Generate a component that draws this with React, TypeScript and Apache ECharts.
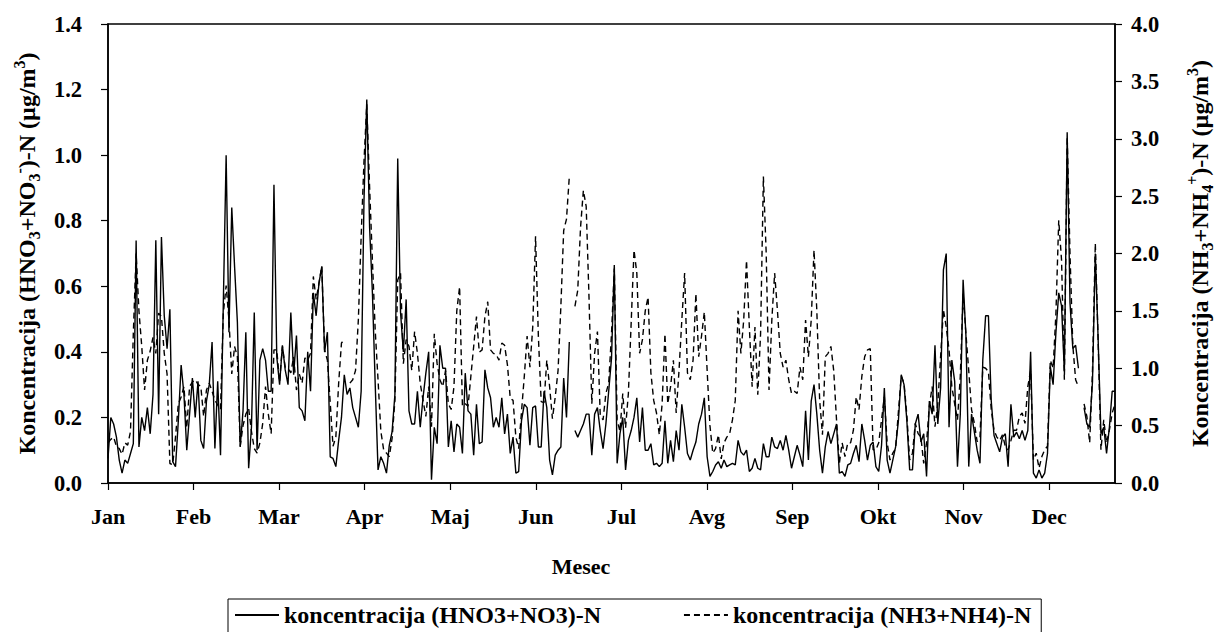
import React, { useEffect, useRef } from "react";
import * as echarts from "echarts";

const months = ["Jan", "Feb", "Mar", "Apr", "Maj", "Jun", "Jul", "Avg", "Sep", "Okt", "Nov", "Dec"];
const leftTicks = [0, 1.4, 0.2];
const rightTicks = [0, 4, 0.5];

// (HNO3+NO3)-N, daily values, left axis
const hno3: (number | null)[] = [
  0.075, 0.2, 0.18, 0.14, 0.07, 0.03, 0.07, 0.06, 0.09, 0.12,
  0.74, 0.11, 0.2, 0.16, 0.23, 0.15, 0.27, 0.74, 0.21, 0.75,
  0.51, 0.41, 0.53, 0.065, 0.05, 0.19, 0.36, 0.27, 0.1, 0.21,
  0.32, 0.2, 0.31, 0.13, 0.105, 0.25, 0.3, 0.43, 0.105, 0.31,
  0.085, 0.55, 1.0, 0.46, 0.84, 0.66, 0.49, 0.11, 0.22, 0.46,
  0.045, 0.17, 0.52, 0.1, 0.375, 0.41, 0.375, 0.28, 0.28, 0.91,
  0.385, 0.3, 0.42, 0.345, 0.3, 0.52, 0.33, 0.45, 0.23, 0.22,
  0.19, 0.4, 0.28, 0.58, 0.51, 0.61, 0.66, 0.4, 0.46, 0.08,
  0.075, 0.05, 0.13, 0.2, 0.33, 0.27, 0.29, 0.23, 0.2, 0.17,
  0.28, 0.86, 1.17, 0.78, 0.58, 0.3, 0.04, 0.08, 0.06, 0.03,
  0.115, 0.157, 0.27, 0.99, 0.52, 0.4, 0.56, 0.22, 0.18, 0.18,
  0.28, 0.17, 0.26, 0.335, 0.4, 0.01, 0.17, 0.12, 0.42, 0.35,
  0.35, 0.11, 0.19, 0.095, 0.18, 0.17, 0.09, 0.335, 0.22, 0.21,
  0.085, 0.24, 0.12, 0.125, 0.345, 0.29, 0.26, 0.17, 0.2, 0.17,
  0.26, 0.15, 0.21, 0.09, 0.14, 0.03, 0.035, 0.19, 0.24, 0.23,
  0.115, 0.23, 0.235, 0.11, 0.11, 0.28, 0.23, 0.07, 0.025, 0.085,
  0.1, 0.11, 0.32, 0.2, 0.43, null, 0.16, 0.14, 0.16, 0.18,
  0.21, 0.21, 0.085, 0.21, 0.23, 0.16, 0.105, 0.18, 0.28, 0.38,
  0.665, 0.06, 0.15, 0.2, 0.04, 0.13, 0.16, 0.2, 0.26, 0.125,
  0.23, 0.1, 0.1, 0.12, 0.055, 0.06, 0.05, 0.06, 0.19, 0.06,
  0.13, 0.065, 0.16, 0.1, 0.24, 0.17, 0.09, 0.07, 0.1, 0.125,
  0.18, 0.21, 0.26, 0.08, 0.02, 0.035, 0.055, 0.065, 0.045, 0.07,
  0.05, 0.055, 0.06, 0.055, 0.13, 0.095, 0.085, 0.1, 0.035, 0.045,
  0.075, 0.045, 0.04, 0.12, 0.08, 0.08, 0.14, 0.11, 0.105, 0.13,
  0.1, 0.145, 0.1, 0.045, 0.08, 0.115, 0.085, 0.05, 0.22, 0.07,
  0.25, 0.3, 0.21, 0.1, 0.03, 0.11, 0.157, 0.12, 0.15, 0.18,
  0.03, 0.035, 0.02, 0.055, 0.06, 0.09, 0.115, 0.065, 0.18, 0.13,
  0.07, 0.115, 0.125, 0.05, 0.035, 0.115, 0.29, 0.07, 0.03, 0.07,
  0.11, 0.19, 0.33, 0.3, 0.19, 0.04, 0.04, 0.18, 0.21, 0.125,
  0.15, 0.02, 0.25, 0.21, 0.42, 0.18, 0.29, 0.65, 0.7, 0.17,
  0.375, 0.31, 0.05, 0.21, 0.62, 0.45, 0.05, 0.21, 0.155, 0.1,
  0.06, 0.375, 0.51, 0.51, 0.25, 0.145, 0.12, 0.095, 0.14, 0.15,
  0.05, 0.24, 0.14, 0.155, 0.135, 0.16, 0.13, 0.16, 0.4, 0.03,
  0.015, 0.04, 0.015, 0.03, 0.09, 0.355, 0.3, 0.46, 0.58, 0.54,
  0.34, 1.07, 0.55, 0.41, 0.42, 0.35, null, 0.23, 0.18, 0.17,
  0.31, 0.7, 0.44, 0.15, 0.17, 0.09, 0.17, 0.28, 0.28,
];

// (NH3+NH4)-N, daily values, right axis
const nh3: (number | null)[] = [
  0.35, 0.38, 0.4, 0.32, 0.3, 0.25, 0.35, 0.33, 0.45, 1.3,
  2.0, 1.5, 1.19, 0.81, 1.07, 1.15, 1.27, 1.13, 1.48, 1.45,
  1.13, 0.95, 0.17, 0.16, 0.4, 0.69, 0.75, 0.84, 0.48, 0.84,
  0.88, 0.9, 0.86, 0.84, 0.58, 0.81, 0.87, 0.8, 0.72, 0.68,
  0.64, 1.48, 1.72, 1.42, 0.95, 1.19, 1.1, 0.32, 0.5, 0.6,
  0.65, 0.45, 0.3, 0.26, 0.35, 0.52, 0.84, 0.6, 0.43, 1.16,
  1.16, 0.88, 1.19, 1.01, 1.0, 0.96, 1.1, 0.81, 0.95, 0.87,
  1.09, 1.07, 1.13, 1.8, 1.6, 1.74, 1.89, 1.16, 1.07, 0.7,
  0.32, 0.4, 0.87, 1.22, 1.25, null, 0.87, 0.9, 0.98, 1.42,
  2.15, 2.8, 3.3, 2.58, 1.94, 1.33, 0.9, 0.45, 0.29, 0.26,
  0.23, 0.39, 0.72, 1.77, 1.83, 1.04, 1.25, 1.19, 0.98, 1.32,
  1.13, 0.87, 0.72, 0.58, 0.84, 0.49, 1.3, 1.04, 0.9, 0.84,
  0.98, 0.69, 0.64, 0.84, 1.5, 1.71, 0.67, 0.69, 0.67, 0.93,
  1.19, 1.45, 1.14, 1.16, 1.45, 1.58, 1.16, 1.13, 1.12, 1.07,
  1.22, 1.2, 1.03, 0.74, 0.72, 0.4, 0.3, 0.62, 0.93, 1.28,
  1.01, 1.36, 2.15, 1.28, 0.71, 0.7, 1.07, 0.84, 0.56, 0.75,
  0.98, 1.54, 2.2, 2.3, 2.67, null, 1.54, 1.68, 2.23, 2.55,
  2.41, 1.62, 0.69, 1.13, 1.32, 0.59, 0.55, 0.78, 0.87, 1.3,
  1.87, 0.55, 0.45, 0.78, 0.48, 0.78, 1.4, 2.03, 1.83, 1.13,
  1.25, 1.5, 1.62, 0.96, 0.72, 0.61, 0.42, 0.69, 1.3, 0.69,
  0.84, 1.07, 0.61, 0.98, 1.42, 1.83, 0.96, 0.9, 1.07, 1.65,
  1.1, 1.28, 1.49, 0.98, 0.5, 0.26, 0.3, 0.42, 0.21, 0.35,
  0.4, 0.43, 0.55, 0.72, 1.5, 1.13, 1.42, 1.94, 1.36, 0.84,
  1.36, 0.77, 1.3, 2.67, 2.0, 0.81, 1.42, 1.83, 1.5, 1.13,
  1.01, 1.07, 0.9, 0.78, 0.8, 0.78, 1.01, 0.9, 1.42, 1.1,
  1.42, 2.03, 1.5, 0.72, 0.42, 1.1, 1.13, 1.19, 0.98, 0.55,
  0.17, 0.35, 0.23, 0.35, 0.35, 0.46, 0.75, 0.64, 0.93, 1.1,
  1.16, 1.17, 0.29, 0.29, 0.35, 0.55, 0.75, 0.35, 0.2, 0.26,
  0.3, 0.62, 0.93, 0.87, 0.59, 0.2, 0.26, 0.52, 0.43, 0.4,
  0.17, 0.35, 0.67, 0.84, 0.49, 0.69, 1.1, 1.51, 1.36, 1.16,
  0.84, 0.69, 0.55, 0.93, 1.65, 1.3, 0.98, 0.64, 0.52, 0.36,
  0.4, 1.01, 1.0, 0.97, 0.64, 0.46, 0.4, 0.37, 0.42, 0.32,
  0.29, 0.37, 0.46, 0.46, 0.58, 0.61, 0.52, 0.84, 0.98, 0.2,
  0.26, 0.13, 0.23, 0.29, 0.32, 1.07, 1.0, 1.48, 2.29, 1.94,
  0.9, 3.02, 2.0, 1.2, 0.9, 0.84, null, 0.69, 0.58, 0.35,
  0.98, 2.09, 1.25, 0.29, 0.55, 0.35, 0.46, 0.61, 0.69,
];

const seriesNames = ["koncentracija (HNO3+NO3)-N", "koncentracija (NH3+NH4)-N"];
const FONT = "'Liberation Serif', 'Times New Roman', serif";
const DAYS_PER_MONTH = 365 / 12;
const LAST_DAY = 358;

export default function App() {
  const ref = useRef<HTMLDivElement>(null);
  useEffect(() => {
    if (!ref.current) return;
    const chart = echarts.init(ref.current, undefined, { renderer: "svg" });
    const black = "#000";
    const tickLabel = { color: black, fontSize: 22, fontWeight: "bold" as const, fontFamily: FONT };
    const sub = { fontSize: 16, fontWeight: "bold" as const, fontFamily: FONT, color: black, verticalAlign: "bottom" as const, lineHeight: 17 };
    const sup = { fontSize: 16, fontWeight: "bold" as const, fontFamily: FONT, color: black, verticalAlign: "top" as const, lineHeight: 17 };
    const titleStyle = { color: black, fontSize: 24, fontWeight: "bold" as const, fontFamily: FONT, lineHeight: 31, rich: { s: sub, p: sup } };
    chart.setOption({
      animation: false,
      backgroundColor: "#fff",
      grid: { left: 108, top: 24, width: 1011, height: 459, show: true, borderColor: black, borderWidth: 1.5, backgroundColor: "transparent" },
      legend: {
        left: 228, top: 599, orient: "horizontal",
        borderColor: black, borderWidth: 1, padding: [4, 10, 6, 6],
        itemGap: 82, itemWidth: 44, itemHeight: 14,
        itemStyle: { color: "rgba(0,0,0,0)", borderWidth: 0, opacity: 0 },
        textStyle: { color: black, fontSize: 24, fontWeight: "bold", fontFamily: FONT },
        data: seriesNames,
      },
      xAxis: {
        type: "value", min: 0, max: LAST_DAY, interval: DAYS_PER_MONTH,
        axisLine: { lineStyle: { color: black, width: 1.5 } },
        axisTick: { length: 7, lineStyle: { color: black, width: 1.2 } },
        splitLine: { show: false },
        axisLabel: {
          ...tickLabel, margin: 22, showMaxLabel: false,
          formatter: (v: number) => months[Math.round(v / DAYS_PER_MONTH)] ?? "",
        },
        name: "Mesec", nameLocation: "middle", nameGap: 72,
        nameTextStyle: { ...tickLabel, padding: [0, 61, 0, 0] },
      },
      yAxis: [
        {
          type: "value", min: leftTicks[0], max: leftTicks[1], interval: leftTicks[2], position: "left",
          axisLine: { show: true, lineStyle: { color: black, width: 1.5 } },
          axisTick: { show: true, length: 7, lineStyle: { color: black, width: 1.2 } },
          splitLine: { show: false },
          axisLabel: { ...tickLabel, fontSize: 22.5, margin: 26, formatter: (v: number) => v.toFixed(1) },
          name: "Koncentracija (HNO{s|3}+NO{s|3}{p|-})-N (µg/m{p|3})",
          nameLocation: "middle", nameRotate: 90, nameGap: 65,
          nameTextStyle: titleStyle,
        },
        {
          type: "value", min: rightTicks[0], max: rightTicks[1], interval: rightTicks[2], position: "right",
          axisLine: { show: true, lineStyle: { color: black, width: 1.5 } },
          axisTick: { show: true, length: 7, lineStyle: { color: black, width: 1.2 } },
          splitLine: { show: false },
          axisLabel: { ...tickLabel, fontSize: 22.5, margin: 16, formatter: (v: number) => v.toFixed(1) },
          name: "Koncentracija (NH{s|3}+NH{s|4}{p|+})-N (µg/m{p|3})",
          nameLocation: "middle", nameRotate: 90, nameGap: 69,
          nameTextStyle: titleStyle,
        },
      ],
      series: [
        {
          name: seriesNames[0], type: "line", yAxisIndex: 0, symbol: "none", connectNulls: false,
          lineStyle: { color: black, width: 1.4, type: "solid" }, itemStyle: { color: black },
          data: hno3.map((v, i) => [i, v]),
        },
        {
          name: seriesNames[1], type: "line", yAxisIndex: 1, symbol: "none", connectNulls: false,
          lineStyle: { color: black, width: 1.4, type: [6, 4] }, itemStyle: { color: black },
          data: nh3.map((v, i) => [i, v]),
        },
      ],
    });
    return () => chart.dispose();
  }, []);
  return <div ref={ref} style={{ position: "absolute", left: 0, top: 0, width: 1223, height: 632 }} />;
}
